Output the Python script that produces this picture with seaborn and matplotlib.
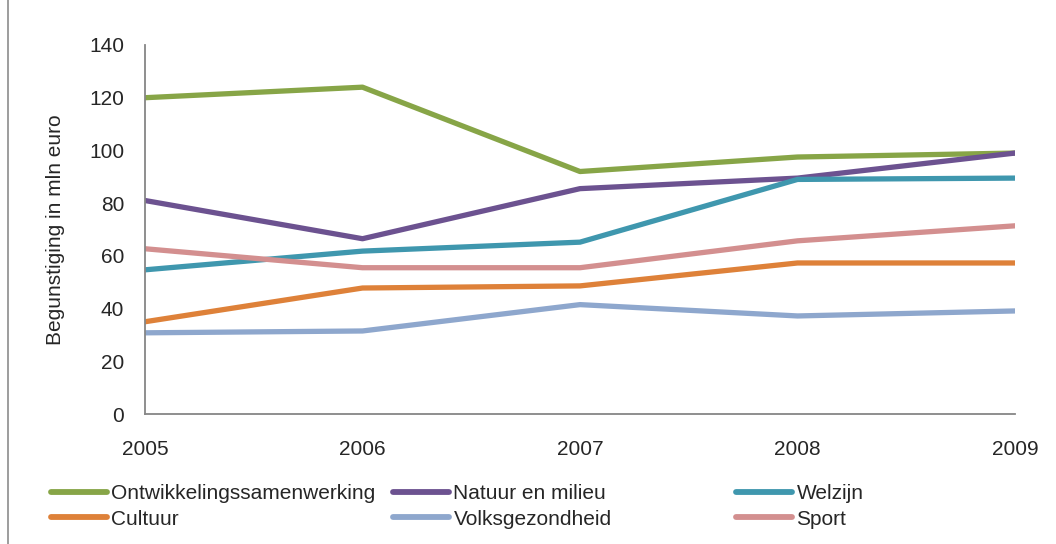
import pandas as pd
import seaborn as sns
import matplotlib.pyplot as plt
from matplotlib.patches import Rectangle
from matplotlib.lines import Line2D

years = [2005, 2006, 2007, 2008, 2009]
series_names = [
    "Ontwikkelingssamenwerking",
    "Natuur en milieu",
    "Welzijn",
    "Cultuur",
    "Volksgezondheid",
    "Sport",
]
ontwikkeling = [120, 124, 92, 97.5, 99]
natuur = [81, 66.5, 85.5, 89.5, 99]
welzijn = [54.7, 61.8, 65.2, 89, 89.5]
cultuur = [35, 47.8, 48.6, 57.3, 57.3]
volksgezondheid = [30.8, 31.5, 41.5, 37.2, 39.1]
sport = [62.7, 55.5, 55.5, 65.7, 71.4]
colors = ["#87A547", "#6C5290", "#3F97AE", "#DE8139", "#8EA7CD", "#D38F8F"]

values = [ontwikkeling, natuur, welzijn, cultuur, volksgezondheid, sport]
rows = []
for name, vals in zip(series_names, values):
    for yr, v in zip(years, vals):
        rows.append({"jaar": yr, "waarde": v, "reeks": name})
df = pd.DataFrame(rows)

sns.set_style("white")
plt.rcParams["font.family"] = ["Liberation Sans", "DejaVu Sans"]

fs = 15
fig = plt.figure(figsize=(10.56, 5.44), dpi=100)
ax = fig.add_axes([145 / 1056, 1 - 414 / 544, 870 / 1056, 369 / 544])

sns.lineplot(
    data=df,
    x="jaar",
    y="waarde",
    hue="reeks",
    hue_order=series_names,
    palette=colors,
    linewidth=3.8,
    legend=False,
    ax=ax,
)
for line in ax.lines:
    line.set_solid_capstyle("round")
    line.set_solid_joinstyle("round")

ax.set_xlim(2005, 2009)
ax.set_ylim(0, 140)
ax.set_xticks(years)
ax.set_yticks(range(0, 141, 20))
ax.tick_params(axis="x", labelsize=fs, pad=19, length=0)
ax.tick_params(axis="y", labelsize=fs, pad=15, length=0)
ax.set_xlabel("")
ax.set_ylabel("Begunstiging in mln euro", fontsize=fs, labelpad=17)
for side in ["top", "right"]:
    ax.spines[side].set_visible(False)
for side in ["left", "bottom"]:
    ax.spines[side].set_color("#868686")
    ax.spines[side].set_linewidth(1.3)

# legend: three columns at fixed positions, rows filled left to right
col_x = [51 / 1056, 393 / 1056, 736 / 1056]
for c in range(3):
    idx = [c, c + 3]
    handles = [
        Line2D([0], [0], color=colors[i], linewidth=4.2, solid_capstyle="round")
        for i in idx
    ]
    fig.legend(
        handles=handles,
        labels=[series_names[i] for i in idx],
        loc="upper left",
        bbox_to_anchor=(col_x[c], 1 - 484 / 544),
        frameon=False,
        fontsize=fs,
        handlelength=2.7,
        handletextpad=0.2,
        labelspacing=0.32,
        borderaxespad=0,
        borderpad=0,
    )

fig.patches.append(
    Rectangle((8 / 1056, -0.01), 1.1, 1.1, transform=fig.transFigure,
              fill=False, edgecolor="#8C8C8C", linewidth=1.2)
)

fig.savefig("out.png", dpi=100)
